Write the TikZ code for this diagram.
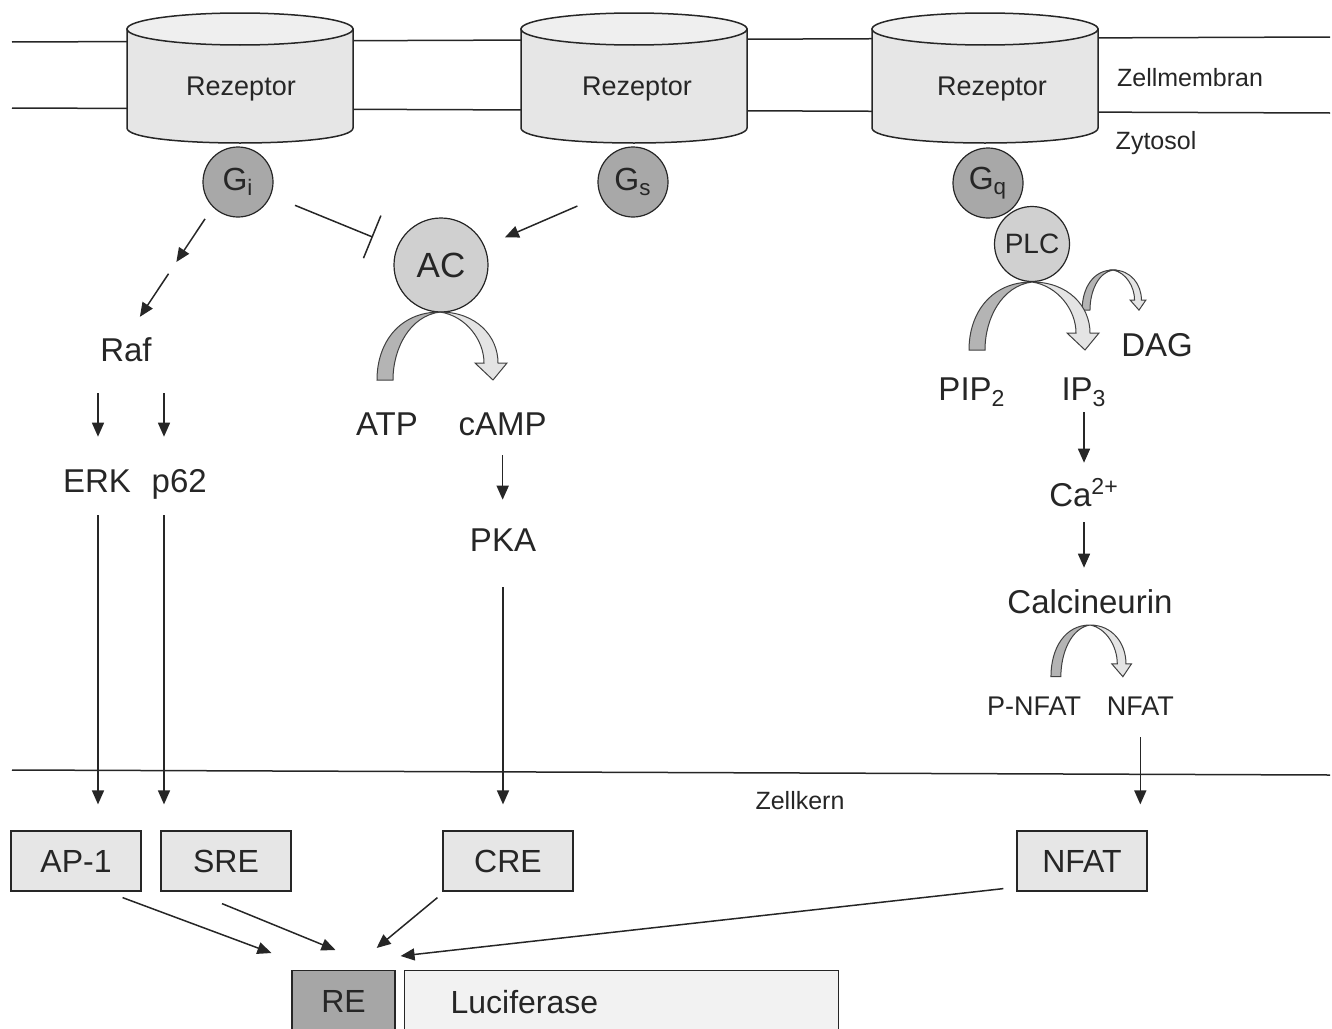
\documentclass[tikz,border=0pt]{standalone}
\usepackage{fontspec}
\setmainfont{Liberation Sans}
\usetikzlibrary{arrows.meta,positioning,calc}

\definecolor{ink}{HTML}{262626}
\definecolor{memfill}{HTML}{E6E6E6}
\definecolor{memtop}{HTML}{EFEFEF}
\definecolor{gdark}{HTML}{A8A8A8}
\definecolor{glight}{HTML}{D0D0D0}
\definecolor{bandL}{HTML}{B4B4B4}
\definecolor{bandR}{HTML}{E4E4E4}
\definecolor{boxfill}{HTML}{E6E6E6}
\definecolor{refill}{HTML}{A6A6A6}
\definecolor{lucfill}{HTML}{F2F2F2}

\newcommand{\bendarrow}[4]{%
  \begin{scope}[shift={(#1,#2)},xscale=#3,yscale=#4]
    \filldraw[band,fill=bandL] (0,0) .. controls (-40,0) and (-63,30) .. (-63,68)
      -- (-47,68) .. controls (-47,36) and (-30,4) .. (0,0) -- cycle;
    \filldraw[band,fill=bandR] (0,0) .. controls (36,0) and (58,24) .. (58,51)
      -- (67,51) -- (53,68) -- (35,51) -- (44,51) .. controls (44,28) and (26,4) .. (0,0) -- cycle;
  \end{scope}}

\begin{document}
\begin{tikzpicture}[x=0.5pt,y=-0.5pt,>={Triangle[length=7pt,width=6pt]},
    line/.style={draw=ink,line width=0.75pt},
    band/.style={draw=black!75,line width=0.5pt},
    lbl/.style={font=\fontsize{16.5}{18}\selectfont,text=ink,inner sep=0pt,text height=11.9pt,text depth=0pt},
    small/.style={lbl,font=\fontsize{13.5}{15}\selectfont,text height=9.7pt},
    tag/.style={lbl,font=\fontsize{12.5}{14}\selectfont,text height=9pt},
    gprot/.style={circle,draw=ink,line width=0.6pt,fill=gdark,minimum size=35pt,inner sep=0pt,text=ink,font=\fontsize{16}{18}\selectfont},
    enzyme/.style={gprot,fill=glight},
    elem/.style={draw=ink,line width=0.6pt,fill=boxfill,minimum width=65pt,minimum height=30pt,inner sep=0pt,text=ink,font=\fontsize{16}{18}\selectfont},
    tobox/.style={shorten >=13pt}]

  \useasboundingbox (0,0) rectangle (1332,1028);
  \clip (0,0) rectangle (1332,1028);

  \draw[line] (12,42) -- (1330,37);
  \draw[line] (12,108) -- (1330,113);
  \draw[line] (12,770) -- (1330,775);

  \foreach \cx/\nm/\tx in {240/rec1/241,634/rec2/637,985/rec3/992}{
    \filldraw[line,fill=memfill] (\cx-113,29) -- (\cx-113,128)
      .. controls (\cx-113,148) and (\cx+113,148) .. (\cx+113,128) -- (\cx+113,29) -- cycle;
    \filldraw[line,fill=memtop] (\cx,29) ellipse [x radius=56.5pt,y radius=8pt];
    \node[tag,font=\fontsize{13.5}{15}\selectfont] (\nm) at (\tx,86) {Rezeptor};
  }

  \node[tag] (memb) at (1190,77) {Zellmembran};
  \node[tag] (cyto) at (1156,140) {Zytosol};
  \node[tag] (nucl) at (800,800) {Zellkern};

  \node[gprot] (Gi) at (238,182) {G\textsubscript{i}};
  \node[gprot] (Gs) at (633,182) {G\textsubscript{s}};
  \node[gprot] (Gq) at (988,183) {G\textsubscript{q}};
  \node[enzyme,minimum size=37.5pt,font=\fontsize{14}{16}\selectfont] (PLC) at (1032,244) {PLC};
  \node[enzyme,minimum size=47pt,font=\fontsize{17.5}{19}\selectfont] (AC) at (441,265) {AC};

  \bendarrow{440}{312}{1}{1}
  \bendarrow{1113}{270}{0.49}{0.59}
  \bendarrow{1032}{282}{1}{1}
  \bendarrow{1090}{625}{0.62}{0.76}

  \node[lbl] (Raf) at (126,350) {Raf};
  \node[lbl] (ERK) at (97,481) {ERK};
  \node[lbl,right=10pt of ERK] (p62) {p62};
  \node[lbl] (ATP) at (387,424) {ATP};
  \node[lbl,right=20pt of ATP] (cAMP) {cAMP};
  \node[lbl] (PKA) at (503,540) {PKA};
  \node[lbl] (PIP2) at (972,389) {PIP\textsubscript{2}};
  \node[lbl] (IP3) at (1084,389) {IP\textsubscript{3}};
  \node[lbl] (DAG) at (1157,345) {DAG};
  \node[lbl] (Ca) at (1084,495) {Ca\textsuperscript{2+}};
  \node[lbl] (Calci) at (1090,602) {Calcineurin};
  \node[small] (PNFAT) at (1034,706) {P-NFAT};
  \node[small,right=12.5pt of PNFAT] (NFAT) {NFAT};

  \node[elem] (AP1) at (76,861) {AP-1};
  \node[elem] (SRE) at (226,861) {SRE};
  \node[elem] (CRE) at (508,861) {CRE};
  \node[elem] (NFATbox) at (1082,861) {NFAT};
  \node[elem,fill=refill,minimum width=51.5pt,minimum height=31pt,anchor=north] (RE) at (343.5,970) {RE};
  \node[elem,fill=lucfill,anchor=north west,minimum height=31pt,text width=171pt,inner xsep=23pt,align=left] (Luc) at (404,970) {Luciferase};

  \coordinate (colERK) at (98,0);
  \coordinate (colp62) at (164,0);

  \draw[line,->] ($(Gi.south west)!0.09!(Raf.north)$) -- ($(Gi.south west)!0.42!(Raf.north)$);
  \draw[line,->] ($(Gi.south west)!0.51!(Raf.north)$) -- ($(Gi.south west)!0.84!(Raf.north)$);
  \draw[line,-{Bar[width=23pt]},shorten <=13pt,shorten >=13pt] (Gi) -- (AC);
  \draw[line,->,shorten <=12.5pt,shorten >=11pt] (Gs) -- (AC);

  \draw[line,->,shorten <=15.5pt,shorten >=16pt] (colERK |- Raf.south) -- (colERK |- ERK.north);
  \draw[line,->,shorten <=15.5pt,shorten >=16pt] (colp62 |- Raf.south) -- (colp62 |- p62.north);
  \draw[line,->,shorten <=11pt,tobox] (colERK |- ERK.south) -- (colERK |- AP1.north);
  \draw[line,->,shorten <=11pt,tobox] (colp62 |- p62.south) -- (colp62 |- SRE.north);
  \draw[line,->,shorten <=9.5pt,shorten >=14pt] (cAMP.south) -- (cAMP.south |- PKA.north);
  \draw[line,->,shorten <=17.5pt,tobox] (PKA.south) -- (PKA.south |- CRE.north);
  \draw[line,->,shorten <=5.5pt,shorten >=10pt] (IP3.south) -- (IP3.south |- Ca.north);
  \draw[line,->,shorten <=7.5pt,shorten >=11pt] (Ca.south) -- (Ca.south |- Calci.north);
  \draw[line,->,shorten <=10.5pt,tobox] (NFAT.south) -- (NFAT.south |- NFATbox.north);

  \draw[line,->] ([shift={(-19,6)}]AP1.south east) -- ([shift={(-20,-17)}]RE.north west);
  \draw[line,->] ([shift={(-4,12)}]SRE.south) -- ([shift={(-8,-20)}]RE.north);
  \draw[line,->] ([shift={(-5,6)}]CRE.south west) -- ([shift={(-19,-22)}]RE.north east);
  \draw[line,->] ([shift={(-13,-3)}]NFATbox.south west) -- ([shift={(5,-14)}]RE.north east);
\end{tikzpicture}
\end{document}
